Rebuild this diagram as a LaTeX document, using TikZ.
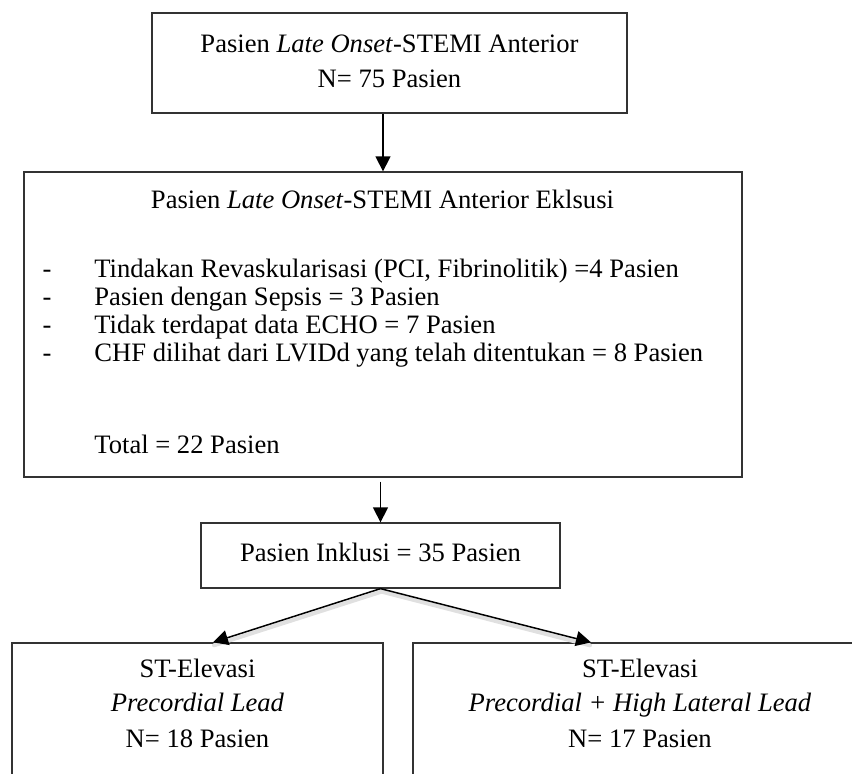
\documentclass[tikz,border=0pt]{standalone}
\usepackage{fontspec}
\setmainfont{Liberation Serif}
\usetikzlibrary{arrows.meta,calc}
\begin{document}
\begin{tikzpicture}[x=0.5pt,y=-0.5pt,
  box/.style={draw=black!80, line width=0.65pt, rectangle, inner sep=0pt},
  txt/.style={font=\fontsize{13.3pt}{17.5pt}\selectfont, inner sep=0pt, anchor=base},
  ltxt/.style={txt, anchor=base west},
  arr/.style={draw=black, line width=0.75pt, -{Triangle[length=7.5pt,width=7.5pt]}},
  shade/.style={draw=black!12, line width=2pt, line cap=round}]
\useasboundingbox (0,0) rectangle (852,774);
\clip (0,0) rectangle (852,774);
% boxes
\node[box, minimum width=237.5pt, minimum height=50pt] (top) at (389.5,63) {};
\node[box, minimum width=359pt, minimum height=152.5pt] (ex) at (383,324.5) {};
\node[box, minimum width=179.5pt, minimum height=32.5pt] (incl) at (380.5,555.5) {};
\node[box, minimum width=185.5pt, minimum height=78.5pt] (lbox) at (197.5,721.5) {};
\node[box, minimum width=227pt, minimum height=78.5pt] (rbox) at (640,721.5) {};
% texts
\node[txt] (t1) at (389.5,53) {Pasien \textit{Late Onset}-STEMI Anterior};
\node[txt] (t2) at (389.5,88) {N= 75 Pasien};
\node[txt] (e0) at (382.5,209) {Pasien \textit{Late Onset}-STEMI Anterior Eklsusi};
\node[txt] (d1) at (47,278) {-};
\node[txt] (d2) at (47,306) {-};
\node[txt] (d3) at (47,334) {-};
\node[txt] (d4) at (47,362) {-};
\node[ltxt] (e1) at (94,278) {Tindakan Revaskularisasi (PCI, Fibrinolitik) =4 Pasien};
\node[ltxt] (e2) at (94,306) {Pasien dengan Sepsis = 3 Pasien};
\node[ltxt] (e3) at (94,334) {Tidak terdapat data ECHO = 7 Pasien};
\node[ltxt] (e4) at (94,362) {CHF dilihat dari LVIDd yang telah ditentukan = 8 Pasien};
\node[ltxt] (e5) at (94,454) {Total = 22 Pasien};
\node[txt] (i1) at (380.5,562) {Pasien Inklusi = 35 Pasien};
\node[txt] (l1) at (197.5,678) {ST-Elevasi};
\node[txt] (l2) at (197.5,712) {\textit{Precordial Lead}};
\node[txt] (l3) at (197.5,748) {N= 18 Pasien};
\node[txt] (r1) at (640,678) {ST-Elevasi};
\node[txt] (r2) at (640,712) {\textit{Precordial + High Lateral Lead}};
\node[txt] (r3) at (640,748) {N= 17 Pasien};
% connector end points
\coordinate (la) at ($(lbox.north)+(15.5,0)$);
\coordinate (ra) at ($(rbox.north)+(-49,0)$);
% shadows
\draw[shade] ($(incl.south)+(1,3)$) -- ($(la)+(1,3)$);
\draw[shade] ($(incl.south)+(1,3)$) -- ($(ra)+(-1,3)$);
% arrows
\draw[arr] (top.south -| ex.north) -- (ex.north);
\draw[arr] ($(ex.south -| incl.north)+(0,4)$) -- (incl.north);
\draw[arr] (incl.south) -- (la);
\draw[arr] (incl.south) -- (ra);
\end{tikzpicture}
\end{document}
